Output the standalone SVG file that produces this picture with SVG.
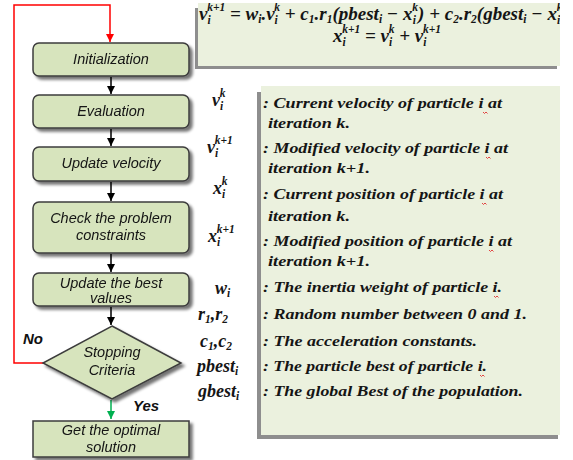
<svg xmlns="http://www.w3.org/2000/svg" width="573" height="460" viewBox="0 0 573 460">
<style>
.box{fill:#d7e4bd;stroke:#3c3c3c;stroke-width:1.5}
.ft{font-family:"Liberation Sans",Arial,sans-serif;font-style:italic;font-size:14.5px;fill:#141414;text-anchor:middle}
.nt{font-family:"Liberation Serif","Times New Roman",serif;font-style:italic;font-weight:bold;font-size:15.5px;fill:#151515}
.mt{font-family:"Liberation Serif","Times New Roman",serif;font-style:italic;font-weight:bold;font-size:19px;fill:#151515}
.ms{font-family:"Liberation Serif","Times New Roman",serif;font-style:italic;font-weight:bold;font-size:18px;fill:#151515}
.sb{font-size:11.5px}
.panel{fill:#ebf1de}
.psh{fill:#8e8e8e}
.conn{stroke:#000;stroke-width:1.5;fill:none}
.sq{stroke:#e03030;stroke-width:0.9;fill:none}
.lab{font-family:"Liberation Sans",Arial,sans-serif;font-style:italic;font-weight:bold;font-size:15px;fill:#111}
</style>
<defs>
<filter id="sh" x="-10%" y="-20%" width="130%" height="160%">
<feGaussianBlur in="SourceAlpha" stdDeviation="1.5"/>
<feOffset dx="3" dy="3"/>
<feComponentTransfer><feFuncA type="linear" slope="0.55"/></feComponentTransfer>
<feMerge><feMergeNode/><feMergeNode in="SourceGraphic"/></feMerge>
</filter>
<clipPath id="c1"><rect x="198" y="3" width="362" height="63"/></clipPath>
<marker id="ab" viewBox="0 0 10 10" refX="10" refY="5" markerWidth="8" markerHeight="8" markerUnits="userSpaceOnUse" orient="auto"><path d="M0,0 L10,5 L0,10 z" fill="#000"/></marker>
<marker id="ar" viewBox="0 0 10 10" refX="10" refY="5" markerWidth="8" markerHeight="8" markerUnits="userSpaceOnUse" orient="auto"><path d="M0,0 L10,5 L0,10 z" fill="#ff0000"/></marker>
<marker id="ag" viewBox="0 0 10 10" refX="10" refY="5" markerWidth="8" markerHeight="8" markerUnits="userSpaceOnUse" orient="auto"><path d="M0,0 L10,5 L0,10 z" fill="#00b050"/></marker>
</defs>

<!-- equation panel -->
<g id="equations">
<rect class="psh" x="195" y="8" width="362" height="61"/>
<rect class="panel" x="198" y="3" width="362" height="63"/>
<g clip-path="url(#c1)">
<text class="mt" x="199" y="20">v<tspan class="sb" dy="4">i</tspan><tspan class="sb" dx="-3.5" dy="-13">k+1</tspan><tspan dy="9"> = w</tspan><tspan class="sb" dy="3">i</tspan><tspan dy="-3">.v</tspan><tspan class="sb" dy="4">i</tspan><tspan class="sb" dx="-3.5" dy="-13">k</tspan><tspan dy="9"> + c</tspan><tspan class="sb" dy="3">1</tspan><tspan dy="-3">.r</tspan><tspan class="sb" dy="3">1</tspan><tspan dy="-3">(pbest</tspan><tspan class="sb" dy="3">i</tspan><tspan dy="-3"> − x</tspan><tspan class="sb" dy="4">i</tspan><tspan class="sb" dx="-3.5" dy="-13">k</tspan><tspan dy="9">) + c</tspan><tspan class="sb" dy="3">2</tspan><tspan dy="-3">.r</tspan><tspan class="sb" dy="3">2</tspan><tspan dy="-3">(gbest</tspan><tspan class="sb" dy="3">i</tspan><tspan dy="-3"> − x</tspan><tspan class="sb" dy="4">i</tspan><tspan class="sb" dx="-3.5" dy="-13">k</tspan><tspan dy="9">)</tspan></text>
<text class="mt" x="333" y="42">x<tspan class="sb" dy="4">i</tspan><tspan class="sb" dx="-3.5" dy="-13">k+1</tspan><tspan dy="9"> = v</tspan><tspan class="sb" dy="4">i</tspan><tspan class="sb" dx="-3.5" dy="-13">k</tspan><tspan dy="9"> + v</tspan><tspan class="sb" dy="4">i</tspan><tspan class="sb" dx="-3.5" dy="-13">k+1</tspan></text>
</g>
</g>

<!-- notation panel -->
<g id="notation">
<rect class="psh" x="257" y="92" width="301" height="347"/>
<rect class="panel" x="261" y="86" width="299" height="349"/>
<text class="nt" x="263" y="108" textLength="239" lengthAdjust="spacingAndGlyphs">: Current velocity of particle i at</text>
<text class="nt" x="268" y="128" textLength="82" lengthAdjust="spacingAndGlyphs">iteration k.</text>
<text class="nt" x="263" y="153" textLength="245" lengthAdjust="spacingAndGlyphs">: Modified velocity of particle i at</text>
<text class="nt" x="268" y="173" textLength="102" lengthAdjust="spacingAndGlyphs">iteration k+1.</text>
<text class="nt" x="263" y="199" textLength="240" lengthAdjust="spacingAndGlyphs">: Current position of particle i at</text>
<text class="nt" x="268" y="221" textLength="82" lengthAdjust="spacingAndGlyphs">iteration k.</text>
<text class="nt" x="263" y="246" textLength="249" lengthAdjust="spacingAndGlyphs">: Modified position of particle i at</text>
<text class="nt" x="268" y="266" textLength="102" lengthAdjust="spacingAndGlyphs">iteration k+1.</text>
<text class="nt" x="263" y="292" textLength="239" lengthAdjust="spacingAndGlyphs">: The inertia weight of particle i.</text>
<text class="nt" x="263" y="319" textLength="264" lengthAdjust="spacingAndGlyphs">: Random number between 0 and 1.</text>
<text class="nt" x="263" y="346" textLength="214" lengthAdjust="spacingAndGlyphs">: The acceleration constants.</text>
<text class="nt" x="263" y="371" textLength="224" lengthAdjust="spacingAndGlyphs">: The particle best of particle i.</text>
<text class="nt" x="263" y="396" textLength="260" lengthAdjust="spacingAndGlyphs">: The global Best of the population.</text>
<g id="spellmarks">
<path class="sq" d="M483,112 l1.5,1.5 l1.5,-1.5 l1.5,1.5"/>
<path class="sq" d="M486,157 l1.5,1.5 l1.5,-1.5 l1.5,1.5"/>
<path class="sq" d="M482,203 l1.5,1.5 l1.5,-1.5 l1.5,1.5"/>
<path class="sq" d="M489,250 l1.5,1.5 l1.5,-1.5 l1.5,1.5"/>
<path class="sq" d="M494,296 l1.5,1.5 l1.5,-1.5 l1.5,1.5"/>
<path class="sq" d="M480,375 l1.5,1.5 l1.5,-1.5 l1.5,1.5"/>
</g>
</g>

<!-- symbols -->
<g id="symbols">
<text class="ms" x="212" y="106">v<tspan class="sb" dy="4">i</tspan><tspan class="sb" dx="-3.5" dy="-13">k</tspan></text>
<text class="ms" x="207" y="153">v<tspan class="sb" dy="4">i</tspan><tspan class="sb" dx="-3.5" dy="-13">k+1</tspan></text>
<text class="ms" x="213" y="194">x<tspan class="sb" dy="4">i</tspan><tspan class="sb" dx="-3.5" dy="-13">k</tspan></text>
<text class="ms" x="208" y="242">x<tspan class="sb" dy="4">i</tspan><tspan class="sb" dx="-3.5" dy="-13">k+1</tspan></text>
<text class="ms" x="215" y="294">w<tspan class="sb" dy="3">i</tspan></text>
<text class="ms" x="198" y="320">r<tspan class="sb" dy="3">1</tspan><tspan dy="-3">,r</tspan><tspan class="sb" dy="3">2</tspan></text>
<text class="ms" x="200" y="347">c<tspan class="sb" dy="3">1</tspan><tspan dy="-3">,c</tspan><tspan class="sb" dy="3">2</tspan></text>
<text class="ms" x="197" y="372">pbest<tspan class="sb" dy="3">i</tspan></text>
<text class="ms" x="198" y="397">gbest<tspan class="sb" dy="3">i</tspan></text>
</g>

<!-- connectors -->
<g id="connectors">
<line class="conn" x1="111" y1="77" x2="111" y2="94" marker-end="url(#ab)"/>
<line class="conn" x1="111" y1="129" x2="111" y2="146" marker-end="url(#ab)"/>
<line class="conn" x1="111" y1="182" x2="111" y2="201" marker-end="url(#ab)"/>
<line class="conn" x1="111" y1="254" x2="111" y2="272" marker-end="url(#ab)"/>
<line class="conn" x1="111" y1="307" x2="111" y2="325" marker-end="url(#ab)"/>
<line x1="111" y1="400" x2="111" y2="419" stroke="#00b050" stroke-width="1.5" marker-end="url(#ag)"/>
<polyline points="43,363 14,363 14,5 110,5 110,42" fill="none" stroke="#ff0000" stroke-width="1.5" marker-end="url(#ar)"/>
<text class="lab" x="23" y="344">No</text>
<text class="lab" x="133" y="411">Yes</text>
</g>

<!-- nodes -->
<g id="n-init" filter="url(#sh)">
<rect class="box" x="33" y="43" width="156" height="33" rx="6"/>
<text class="ft" x="111" y="64">Initialization</text>
</g>
<g id="n-eval" filter="url(#sh)">
<rect class="box" x="33" y="95" width="156" height="33" rx="6"/>
<text class="ft" x="111" y="116">Evaluation</text>
</g>
<g id="n-vel" filter="url(#sh)">
<rect class="box" x="33" y="147" width="156" height="34" rx="6"/>
<text class="ft" x="111" y="168">Update velocity</text>
</g>
<g id="n-check" filter="url(#sh)">
<rect class="box" x="33" y="202" width="156" height="51" rx="6"/>
<text class="ft" x="111" y="223">Check the problem</text>
<text class="ft" x="111" y="240">constraints</text>
</g>
<g id="n-best" filter="url(#sh)">
<rect class="box" x="33" y="273" width="156" height="33" rx="6"/>
<text class="ft" x="111" y="288">Update the best</text>
<text class="ft" x="111" y="303">values</text>
</g>
<g id="n-stop" filter="url(#sh)">
<polygon class="box" points="112,326 181,363 112,399 43,363"/>
<text class="ft" x="112" y="357">Stopping</text>
<text class="ft" x="112" y="375">Criteria</text>
</g>
<g id="n-final" filter="url(#sh)">
<rect class="box" x="33" y="421" width="156" height="36"/>
<text class="ft" x="111" y="435">Get the optimal</text>
<text class="ft" x="111" y="452">solution</text>
</g>
</svg>
